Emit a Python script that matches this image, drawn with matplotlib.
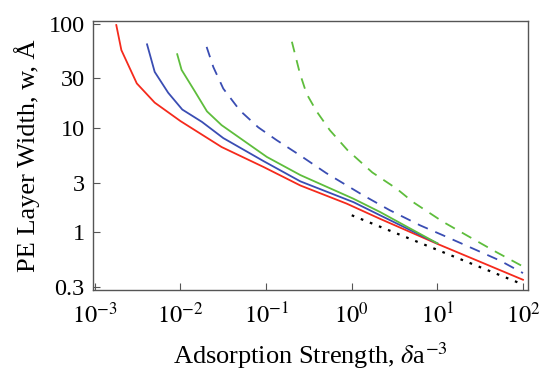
import numpy as np
import matplotlib
matplotlib.use("Agg")
import matplotlib.pyplot as plt

plt.rcParams['font.family'] = ['Liberation Serif', 'DejaVu Serif']
plt.rcParams['mathtext.fontset'] = 'stix'

# curves (x = adsorption strength, y = width in A)
red_x = [1.78e-3, 2.04e-3, 3.09e-3, 5.0e-3, 1.0e-2, 3.02e-2, 9.3e-2, 0.251, 0.871, 2.14, 10, 100]
red_y = [97.7, 56.2, 26.9, 17.6, 11.7, 6.6, 4.25, 2.82, 1.89, 1.35, 0.776, 0.351]

blue_x = [4.07e-3, 5.0e-3, 7.18e-3, 1.05e-2, 1.78e-2, 3.16e-2, 9.3e-2, 0.251, 1.05, 2.14, 10]
blue_y = [63.8, 34.7, 21.9, 15.1, 11.5, 8.04, 4.84, 3.09, 1.95, 1.46, 0.785]

green_x = [9.16e-3, 1.03e-2, 1.48e-2, 2.04e-2, 3.02e-2, 0.102, 0.251, 1.04, 2.14, 10]
green_y = [51.3, 36.3, 22.4, 14.5, 10.7, 5.30, 3.55, 2.11, 1.57, 0.785]

bdash_x = [2.02e-2, 2.42e-2, 3.16e-2, 4.94e-2, 8.09e-2, 0.133, 0.248, 0.501, 1.36, 2.79, 6.27, 11.7, 26.3, 53.7, 100]
bdash_y = [60.3, 38.6, 24.0, 14.8, 10.2, 7.67, 5.50, 3.72, 2.27, 1.63, 1.17, 0.936, 0.697, 0.537, 0.407]

gdash_x = [0.2, 0.248, 0.297, 0.389, 0.556, 0.891, 1.74, 3.34, 5.22, 11.7, 24, 49, 100]
gdash_y = [67.6, 33.6, 21.4, 14.5, 9.55, 6.17, 3.76, 2.63, 1.95, 1.26, 0.90, 0.646, 0.471]

dot_x = [1.0, 88]
dot_y = [1.46, 0.33]

fig, ax = plt.subplots(figsize=(5.4, 3.74), dpi=100)
fig.subplots_adjust(left=0.172, right=0.978, bottom=0.2246, top=0.944)

ax.plot(red_x, red_y, color='#f52a1c', lw=1.3)
ax.plot(blue_x, blue_y, color='#3a4db3', lw=1.3)
ax.plot(green_x, green_y, color='#5ebd3c', lw=1.3)
ax.plot(bdash_x, bdash_y, color='#3a4db3', lw=1.3, ls=(0, (6, 4.5)))
ax.plot(gdash_x, gdash_y, color='#5ebd3c', lw=1.3, ls=(0, (6, 4.5)))
ax.plot(dot_x, dot_y, color='black', lw=1.6, ls=(0, (1.2, 3.2)))

ax.set_xscale('log')
ax.set_yscale('log')
ax.set_xlim(10**-3.023, 10**2.06)
ax.set_ylim(0.28, 107)

ax.set_xticks([1e-3, 1e-2, 1e-1, 1, 10, 100])
ax.set_xticklabels([r'$10^{-3}$', r'$10^{-2}$', r'$10^{-1}$', r'$10^{0}$', r'$10^{1}$', r'$10^{2}$'])
ax.set_yticks([0.3, 1, 3, 10, 30, 100])
ax.set_yticklabels(['0.3', '1', '3', '10', '30', '100'])
ax.minorticks_off()
ax.tick_params(direction='in', length=5, width=0.8, color='#555555', labelsize=17.5)
ax.tick_params(axis='x', pad=9)
ax.tick_params(axis='y', pad=6)

for s in ax.spines.values():
    s.set_color('#555555')
    s.set_linewidth(1.0)

ax.set_xlabel(r'Adsorption Strength, $\delta$a$^{-3}$', fontsize=19, labelpad=9)
ax.set_ylabel('PE Layer Width, w, Å', fontsize=19, labelpad=6)

fig.savefig('out.png', dpi=100)
